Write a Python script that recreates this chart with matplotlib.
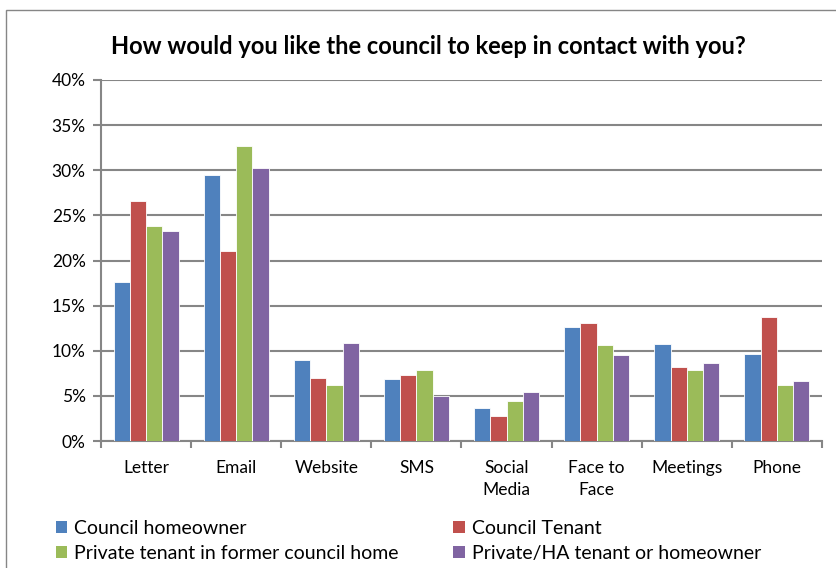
import matplotlib
matplotlib.use("Agg")
import matplotlib.pyplot as plt
from matplotlib.patches import Patch, Rectangle
import numpy as np

plt.rcParams['font.family'] = ['Lato', 'DejaVu Sans']

categories = ["Letter", "Email", "Website", "SMS", "Social\nMedia", "Face to\nFace", "Meetings", "Phone"]
series_names = ["Council homeowner", "Council Tenant",
                "Private tenant in former council home", "Private/HA tenant or homeowner"]
council_homeowner = [17.6, 29.5, 9.0, 6.9, 3.7, 12.6, 10.8, 9.6]
council_tenant = [26.6, 21.0, 7.0, 7.3, 2.75, 13.1, 8.2, 13.7]
private_former = [23.8, 32.7, 6.2, 7.9, 4.4, 10.6, 7.9, 6.2]
private_ha = [23.3, 30.3, 10.9, 5.0, 5.4, 9.5, 8.6, 6.7]
yticks = [0, 5, 10, 15, 20, 25, 30, 35, 40]

colors = ["#4F81BD", "#C0504D", "#9BBB59", "#8064A2"]
grey = "#868686"

W, H = 837, 568
fig = plt.figure(figsize=(W / 100, H / 100), dpi=100)

# chart border (Excel style)
fig.patches.append(Rectangle((6 / W, -0.1), 1.2, 1 - 10 / H + 0.1, transform=fig.transFigure,
                             fill=False, edgecolor=grey, linewidth=1.0))

ax = fig.add_axes([101 / W, (H - 441) / H, 721 / W, 361 / H])

x = np.arange(len(categories)) + 0.5
bw = 0.18
all_series = [council_homeowner, council_tenant, private_former, private_ha]
for i, vals in enumerate(all_series):
    ax.bar(x + (i - 1.5) * bw, vals, width=bw, color=colors[i], edgecolor="#ffffff",
           linewidth=0.6, zorder=3)

ax.set_xlim(0, len(categories))
ax.set_ylim(0, 40)
ax.set_yticks(yticks)
ax.set_yticklabels([f"{t}%" for t in yticks], fontsize=12.5)
ax.yaxis.grid(True, color=grey, linewidth=1.5, zorder=0)
ax.set_axisbelow(True)

ax.set_xticks(np.arange(len(categories) + 1))
ax.set_xticklabels([])
ax.set_xticks(x, minor=True)
ax.set_xticklabels(categories, minor=True, fontsize=12.5, linespacing=1.4)
ax.tick_params(axis="x", which="minor", length=0, pad=14)
ax.tick_params(axis="x", which="major", length=5, color=grey, width=1.5)
ax.tick_params(axis="y", length=6, color=grey, width=1.5, pad=5)
for t in ax.get_xticklabels(minor=True):
    t.set_verticalalignment("top")

for s in ["top", "right"]:
    ax.spines[s].set_visible(False)
for s in ["left", "bottom"]:
    ax.spines[s].set_color(grey)
    ax.spines[s].set_linewidth(1.5)

fig.text(428 / W, 1 - 47 / H, "How would you like the council to keep in contact with you?",
         ha="center", va="center", fontsize=17, fontweight="bold")

order = [0, 2, 1, 3]
handles = [Patch(facecolor=colors[i]) for i in order]
labels = [series_names[i] for i in order]
fig.legend(handles, labels, ncol=2, loc="upper left", bbox_to_anchor=(48 / W, 1 - 512 / H),
           frameon=False, fontsize=14, handlelength=0.6, handleheight=0.6,
           handletextpad=0.35, columnspacing=2.8, labelspacing=0.4, borderaxespad=0)

fig.savefig("out.png", dpi=100)
